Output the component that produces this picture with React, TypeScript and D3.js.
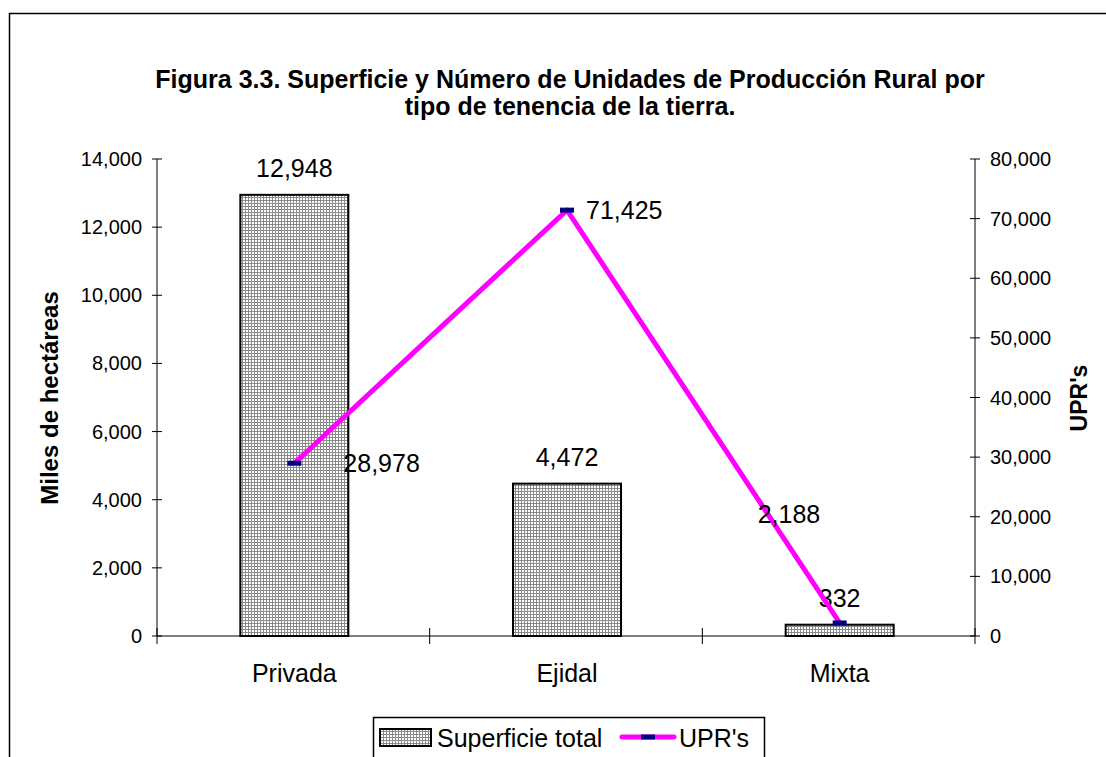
import React from "react";
import * as d3 from "d3";

const categories = ["Privada", "Ejidal", "Mixta"];
const superficie = [12948, 4472, 332];
const uprs = [28978, 71425, 2188];
const leftTicks = [0, 2000, 4000, 6000, 8000, 10000, 12000, 14000];
const rightTicks = [0, 10000, 20000, 30000, 40000, 50000, 60000, 70000, 80000];
const titleLines = [
  "Figura 3.3. Superficie y Número de Unidades de Producción Rural por",
  "tipo de tenencia de la tierra.",
];
// label offsets for line labels (dx, dy, anchor)
const upLabelPos: [number, number, string][] = [
  [49, 0, "start"],
  [19, 0, "start"],
  [-82, -109, "start"],
];

export default function App() {
  const W = 1106, H = 757;
  const x0 = 157, x1 = 975, yTop = 159, yBot = 636;
  const fmt = d3.format(",");
  const yL = d3.scaleLinear().domain([0, 14000]).range([yBot, yTop]);
  const yR = d3.scaleLinear().domain([0, 80000]).range([yBot, yTop]);
  const catStep = (x1 - x0) / categories.length;
  const cx = (i: number) => x0 + catStep * (i + 0.5) + 1;
  const line = d3.line<number>().x((_, i) => cx(i)).y((d) => yR(d));
  const font = "Arial, 'Liberation Sans', sans-serif";

  return (
    <svg width={W} height={H} style={{ position: "absolute", left: 0, top: 0 }} fontFamily={font}>
      <defs>
        <pattern id="dots" width={3} height={3} patternUnits="userSpaceOnUse">
          <rect width={3} height={3} fill="#8a8a8a" />
          <rect x={0} y={0} width={2} height={2} fill="#ffffff" />
        </pattern>
      </defs>
      <rect x={0} y={0} width={W} height={H} fill="#fff" />
      <rect x={9.5} y={13.5} width={W + 10} height={H + 10} fill="none" stroke="#000" strokeWidth={1.5} />
      {titleLines.map((t, i) => (
        <text key={i} x={570} y={88 + i * 27} textAnchor="middle" fontSize={25} fontWeight="bold">{t}</text>
      ))}
      {/* bars */}
      {categories.map((c, i) => {
        const bw = 108;
        const bx = cx(i) - bw / 2;
        return (
          <g key={c}>
            <rect x={bx} y={yL(superficie[i])} width={bw} height={yBot - yL(superficie[i])} fill="url(#dots)" stroke="#000" strokeWidth={2} />
            <text x={cx(i)} y={yL(superficie[i]) - 18} textAnchor="middle" fontSize={25}>{fmt(superficie[i])}</text>
          </g>
        );
      })}
      {/* axes */}
      <line x1={x0} y1={yTop} x2={x0} y2={yBot} stroke="#000" />
      <line x1={x1} y1={yTop} x2={x1} y2={yBot} stroke="#000" />
      <line x1={x0} y1={yBot} x2={x1} y2={yBot} stroke="#000" />
      {leftTicks.map((t) => (
        <g key={"l" + t}>
          <line x1={x0 - 5} x2={x0 + 5} y1={yL(t)} y2={yL(t)} stroke="#000" />
          <text x={142} y={yL(t) + 7} textAnchor="end" fontSize={20}>{fmt(t)}</text>
        </g>
      ))}
      {rightTicks.map((t) => (
        <g key={"r" + t}>
          <line x1={x1 - 5} x2={x1 + 5} y1={yR(t)} y2={yR(t)} stroke="#000" />
          <text x={990} y={yR(t) + 7} textAnchor="start" fontSize={20}>{fmt(t)}</text>
        </g>
      ))}
      {d3.range(categories.length + 1).map((i) => (
        <line key={"c" + i} x1={x0 + i * catStep} x2={x0 + i * catStep} y1={yBot - 8} y2={yBot + 8} stroke="#000" />
      ))}
      {categories.map((c, i) => (
        <text key={"cl" + c} x={cx(i)} y={682} textAnchor="middle" fontSize={25}>{c}</text>
      ))}
      <text transform={`translate(58,398) rotate(-90)`} textAnchor="middle" fontSize={24} fontWeight="bold">Miles de hectáreas</text>
      <text transform={`translate(1087,398) rotate(-90)`} textAnchor="middle" fontSize={23} fontWeight="bold">UPR's</text>
      {/* line */}
      <path d={line(uprs) || ""} fill="none" stroke="#ff00ff" strokeWidth={5} strokeLinejoin="round" />
      {uprs.map((v, i) => (
        <g key={"u" + i}>
          <rect x={cx(i) - 7} y={yR(v) - 2.5} width={14} height={5} fill="#000080" />
          <text x={cx(i) + upLabelPos[i][0]} y={yR(v) + 9 + upLabelPos[i][1]} textAnchor={upLabelPos[i][2]} fontSize={25}>{fmt(v)}</text>
        </g>
      ))}
      {/* legend */}
      <rect x={373.5} y={717.5} width={391} height={42} fill="#fff" stroke="#000" strokeWidth={1.5} />
      <rect x={380} y={729} width={51} height={17} fill="url(#dots)" stroke="#000" strokeWidth={2} />
      <text x={437} y={747} fontSize={25}>Superficie total</text>
      <line x1={622} x2={674} y1={737} y2={737} stroke="#ff00ff" strokeWidth={5} strokeLinecap="round" />
      <rect x={641} y={734.5} width={14} height={5} fill="#000080" />
      <text x={679} y={747} fontSize={25}>UPR's</text>
    </svg>
  );
}
